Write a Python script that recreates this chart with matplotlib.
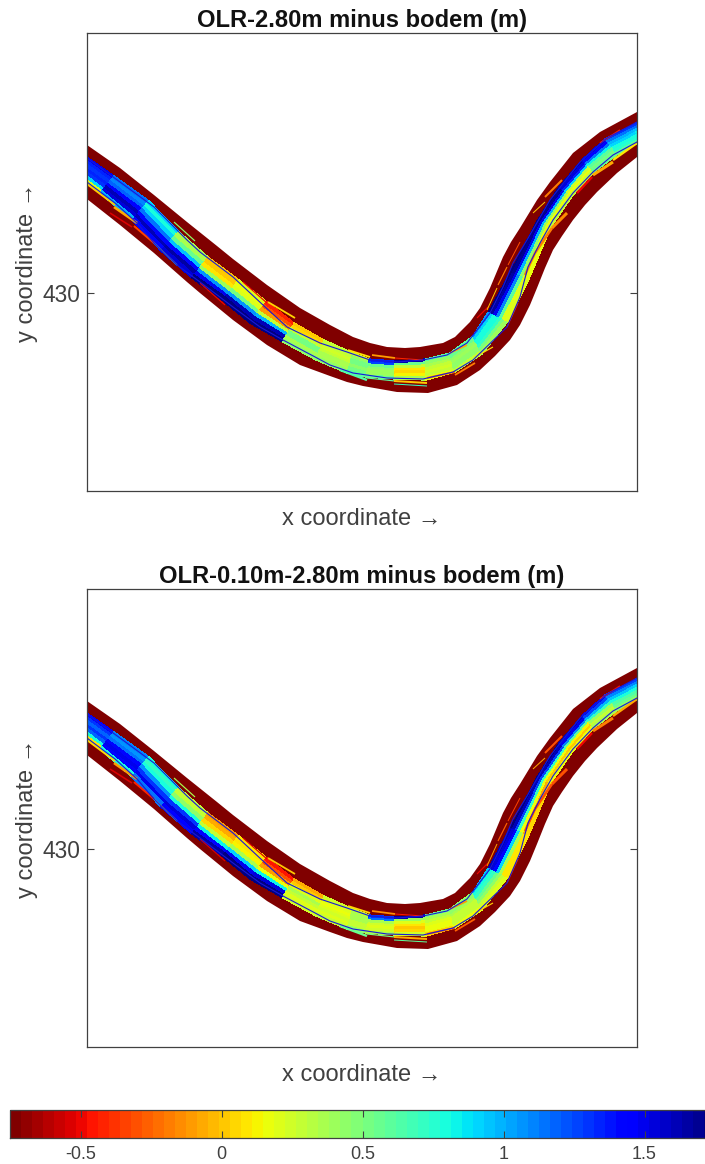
import numpy as np
import matplotlib
matplotlib.use("Agg")
import matplotlib.pyplot as plt
from matplotlib.colors import ListedColormap, Normalize

plt.rcParams['font.family'] = ['Liberation Sans', 'DejaVu Sans']
plt.rcParams['axes.unicode_minus'] = False

W, H = 705, 1164
GREY = '#404040'

titles = ['OLR-2.80m minus bodem (m)', 'OLR-0.10m-2.80m minus bodem (m)']
cbar_ticks = [-0.5, 0, 0.5, 1, 1.5]
cbar_labels = ['-0.5', '0', '0.5', '1', '1.5']
clim = (-0.75, 1.75)
OUT = -0.75

# Survey positions are held as easting/southing in hundredths of a unit
# outline of the whole reach
bank_l_e = [60,87,120,154,187,217,233,267,300,330,353,370,387,405,420,443,455,470,480,490,503,511,520,537,550,573,600,637,665]
bank_l_s = [125,145,168,195,222,246,259,285,308,325,337,343,347,348,347,343,337,322,308,288,257,242,228,200,182,153,132,112,97]
bank_r_e = [60,87,120,154,187,200,233,267,300,330,347,363,397,428,457,480,495,510,520,530,537,545,553,562,573,585,597,617,637,680]
bank_r_s = [178,199,225,253,282,293,320,345,365,376,382,386,392,393,385,370,356,340,325,305,288,268,250,236,220,205,192,173,157,125]

# cross-sections of the grid
sect_l_e = [87,120,154,187,217,247,275,303,330,357,372,396,425,447,468,482,499,527,550,575,600,625,655]
sect_l_s = [145,168,195,222,246,270,291,309,325,339,344,347,346,341,326,308,266,216,182,151,132,119,102]
sect_r_e = [60,93,125,157,188,217,245,277,312,345,365,394,427,458,487,520,539,565,587,605,627,650,680]
sect_r_s = [178,204,229,256,283,307,329,351,370,381,386,391,393,385,364,327,283,233,203,184,165,148,128]
core_from = [.23,.23,.18,.28,.30,.28,.28,.33,.33,.34,.36,.32,.27,.28,.25,.18,.29,.27,.25,.25,.20,.23,.23]
core_to = [.73,.72,.75,.86,.86,.82,.84,.78,.78,.80,.79,.73,.73,.71,.73,.69,.75,.62,.63,.63,.67,.73,.75]

core_a = [
 [1.50,1.35,1.30,1.35,1.30,0.90,0.20],[1.15,1.10,1.20,1.45,1.60,1.55,1.00],
 [0.90,0.80,0.90,1.15,1.40,1.60,1.40],[0.35,0.35,0.55,0.95,1.40,1.65,1.55],
 [0.00,0.00,0.10,0.40,1.05,1.50,1.72],[0.20,0.15,0.20,0.50,1.05,1.60,1.72],
 [-.40,-.30,-.10,0.30,1.00,1.62,1.72],[0.00,0.05,0.30,0.50,0.50,0.35,0.45],
 [0.30,0.30,0.25,0.30,0.35,0.35,0.45],[0.25,0.45,0.50,0.50,0.45,0.50,0.60],
 [1.35,1.25,0.55,0.45,0.42,0.42,0.55],[1.65,0.55,0.30,0.10,0.05,0.12,0.35],
 [0.60,0.45,0.35,0.30,0.25,0.30,0.15],[0.60,0.55,0.45,0.40,0.45,0.45,0.30],
 [1.05,0.90,0.80,0.80,0.70,0.50,0.40],[1.72,1.65,1.50,1.10,0.60,0.20,0.20],
 [1.72,1.70,1.50,1.00,0.45,0.15,0.15],[1.72,1.68,1.50,1.00,0.40,0.15,0.30],
 [1.65,1.55,1.35,0.90,0.30,0.18,0.30],[1.55,1.40,1.15,0.85,0.60,0.50,0.55],
 [1.30,1.15,1.00,0.90,0.80,0.75,0.60],[1.30,1.15,0.95,0.85,0.80,0.70,0.50]]
core_b = [
 [1.45,1.30,1.20,1.30,1.20,0.80,0.10],[1.10,1.05,1.15,1.40,1.50,1.40,0.80],
 [0.80,0.70,0.80,1.05,1.30,1.50,1.15],[0.30,0.30,0.45,0.80,1.30,1.55,1.45],
 [-.10,-.05,0.05,0.30,0.85,1.40,1.65],[0.10,0.10,0.12,0.35,0.90,1.50,1.72],
 [-.45,-.30,-.10,0.15,0.85,1.55,1.72],[-.05,0.00,0.20,0.35,0.30,0.20,0.25],
 [0.25,0.20,0.15,0.20,0.25,0.20,0.30],[0.30,0.35,0.35,0.35,0.30,0.30,0.45],
 [1.30,1.15,0.35,0.25,0.20,0.25,0.35],[1.65,0.40,0.20,0.10,0.00,0.05,0.25],
 [0.50,0.35,0.30,0.20,0.15,0.15,0.05],[0.45,0.45,0.35,0.30,0.30,0.30,0.15],
 [0.95,0.80,0.70,0.55,0.45,0.30,0.20],[1.60,1.55,1.40,0.90,0.35,0.10,0.10],
 [1.72,1.60,1.25,0.70,0.15,-.05,0.05],[1.72,1.60,1.25,0.70,0.15,0.00,0.15],
 [1.60,1.50,1.10,0.60,0.12,0.02,0.15],[1.50,1.25,1.00,0.70,0.40,0.30,0.35],
 [1.25,1.10,0.95,0.80,0.65,0.55,0.45],[1.25,1.10,0.90,0.75,0.65,0.55,0.35]]

# short strips along the banks
strip_e0 = [174,268,243,348,372,395,450,477,487,498,508,533,545,600,87,114,110,134,154,200,340,367,394,394,427,455,475,507,525,535,552,577,593,613]
strip_s0 = [222,302,282,350,355,358,353,318,310,285,265,213,197,143,184,207,213,226,243,283,370,378,381,384,378,375,357,327,275,253,228,193,175,160]
strip_e1 = [195,295,267,370,395,423,467,488,497,507,520,545,562,620,115,137,132,154,177,225,367,395,427,427,455,475,493,518,535,552,567,592,613,637]
strip_s1 = [241,318,303,357,358,360,345,307,288,267,242,202,180,130,205,223,227,243,265,305,380,381,383,386,372,363,347,303,253,228,213,177,162,143]
strip_size = [1.2,1.8,1.2,1.8,1.8,1.0,1.8,1.2,1.0,1.2,1.0,1.0,2.0,1.6,2.0,2.6,1.6,2.0,1.2,1.2,2.4,1.2,2.0,1.0,2.0,1.8,1.2,1.0,2.4,2.6,3.0,2.4,3.0,2.4]
strip_a = [.45,.05,-.50,.10,-.10,-.40,-.05,-.50,.00,-.20,-.30,.00,-.20,-.40,.00,-.05,-.55,-.35,.45,-.50,.65,.60,.00,.70,-.20,-.20,.05,-.30,-.20,-.20,-.15,-.50,-.05,.10]
strip_b = [.35,.00,-.55,.05,-.15,-.45,-.10,-.50,-.10,-.25,-.35,-.05,-.30,-.45,.05,-.10,-.55,-.40,.35,-.55,.55,.50,-.05,.60,-.25,-.25,.00,-.35,-.30,-.30,-.30,-.50,-.20,-.05]

# thin contour lines
contour1_e = [87,120,154,187,200,233,263,287,320,347,370,397,423,447,467,490,503,513,527,550,580,607,637]
contour1_s = [158,182,207,240,252,277,305,327,343,352,360,362,360,355,343,313,287,263,240,200,162,138,122]
contour2_e = [87,115,137,154,177,200,233,260,283,317,330,353,387,423,453,473,507,520,528,540,553,573,593,613,637]
contour2_s = [182,203,223,243,265,282,307,327,340,358,365,373,378,379,372,360,327,297,267,243,220,193,172,155,142]

panels = [(core_a, strip_a, 33, 491), (core_b, strip_b, 589, 1047)]


def east(v):
    return np.asarray(v, float) / 100


def north(v):
    return 432.93 - np.asarray(v, float) / 100


cmap = ListedColormap(plt.get_cmap('jet_r', 64)(np.arange(64)))
norm = Normalize(*clim)

xl, yl = east(sect_l_e), north(sect_l_s)
xr, yr = east(sect_r_e), north(sect_r_s)
f0, f1 = np.array(core_from), np.array(core_to)
cols = np.linspace(0, 1, 8)[None, :]
frac = f0[:, None] + (f1 - f0)[:, None] * cols
X = xl[:, None] * (1 - frac) + xr[:, None] * frac
Y = yl[:, None] * (1 - frac) + yr[:, None] * frac

fig = plt.figure(figsize=(W / 100, H / 100), dpi=100)


def frame(x0, y0, x1, y1):
    return fig.add_axes([x0 / W, 1 - y1 / H, (x1 - x0) / W, (y1 - y0) / H])


for (core, strip, top, bottom), title in zip(panels, titles):
    ax = frame(87, top, 637, bottom)
    ax.fill(np.r_[east(bank_l_e), east(bank_r_e)[::-1]],
            np.r_[north(bank_l_s), north(bank_r_s)[::-1]],
            color=cmap(norm(OUT)), lw=0)
    mesh = ax.pcolormesh(X, Y, np.array(core), cmap=cmap, norm=norm,
                         shading='flat', edgecolors='face', linewidth=0.2)
    for e0, s0, e1, s1, size, v in zip(strip_e0, strip_s0, strip_e1, strip_s1, strip_size, strip):
        ax.plot(east([e0, e1]), north([s0, s1]), color=cmap(norm(v)), lw=size * 0.72,
                solid_capstyle='butt')
    ax.plot(east(contour1_e), north(contour1_s), color='#1818d8', lw=0.8)
    ax.plot(east(contour2_e), north(contour2_s), color='#1818d8', lw=0.8)
    ax.set_xlim(0.87, 6.37)
    ax.set_ylim(428.02, 432.60)
    ax.set_xticks([])
    ax.set_yticks([430])
    ax.set_yticklabels(['430'])
    ax.tick_params(axis='y', direction='in', left=True, right=True, length=5,
                   width=0.8, color=GREY, labelcolor=GREY, labelsize=16.4, pad=5)
    for sp in ax.spines.values():
        sp.set_color(GREY)
        sp.set_linewidth(0.9)
    ax.set_title(title, fontsize=17.1, fontweight='bold', color='#111111', pad=4)
    ax.set_xlabel('x coordinate \u2192', fontsize=17, color=GREY, labelpad=12.5)
    ax.set_ylabel('y coordinate \u2192', fontsize=17, color=GREY, labelpad=3)

cax = frame(10, 1110, 715, 1138)
cb = fig.colorbar(mesh, cax=cax, orientation='horizontal', ticks=cbar_ticks)
cb.set_ticklabels(cbar_labels)
cax.tick_params(axis='x', direction='in', top=True, bottom=True, length=5, width=0.8,
                color=GREY, labelcolor=GREY, labelsize=13, pad=6)
cb.outline.set_edgecolor(GREY)
cb.outline.set_linewidth(0.9)

fig.savefig('out.png', dpi=100)
